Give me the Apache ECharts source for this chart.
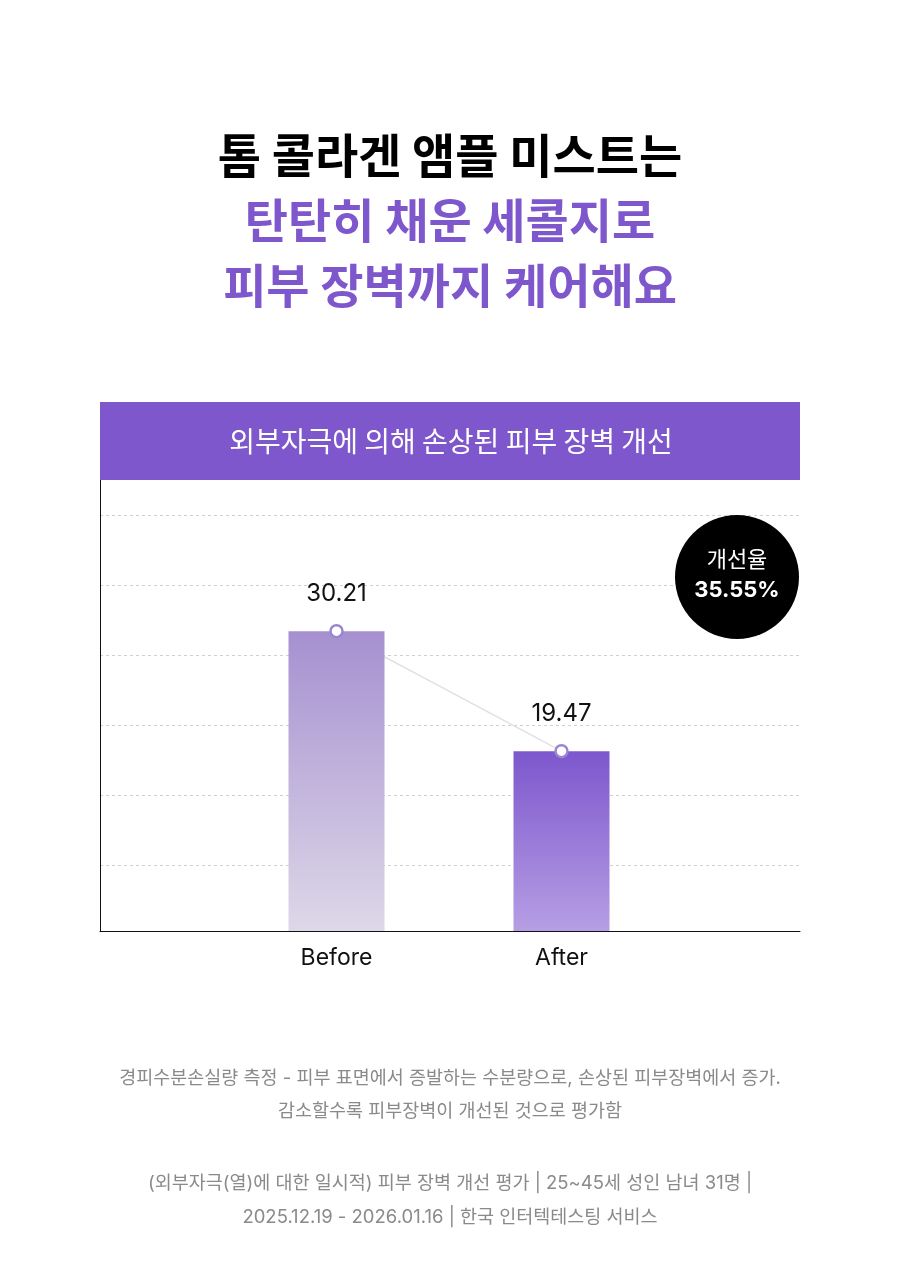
<!DOCTYPE html>
<html lang="ko">
<head>
<meta charset="utf-8">
<title>피부 장벽 개선</title>
<script src="https://cdn.jsdelivr.net/npm/echarts@6/dist/echarts.min.js"></script>
<style>
  html, body { margin: 0; padding: 0; background: #fff; }
  #chart { width: 900px; height: 1280px; }
</style>
</head>
<body>
<div id="chart"></div>
<script>
// data
const categories = ['Before', 'After'];
const tewlValues = [30.21, 19.47];
const headingLines = ['톰 콜라겐 앰플 미스트는', '탄탄히 채운 세콜지로', '피부 장벽까지 케어해요'];
const chartTitle = '외부자극에 의해 손상된 피부 장벽 개선';
const rateLabel = '개선율';
const footnotes = [
    '경피수분손실량 측정 - 피부 표면에서 증발하는 수분량으로, 손상된 피부장벽에서 증가.',
    '감소할수록 피부장벽이 개선된 것으로 평가함',
    '(외부자극(열)에 대한 일시적) 피부 장벽 개선 평가 | 25~45세 성인 남녀 31명 |',
    '2025.12.19 - 2026.01.16 | 한국 인터텍테스팅 서비스'
];

// axis extent of the bar grid (bottom of plot is not zero in the original)
const yMin = 3.37;
const yMax = 45.54;
const guideSteps = 6;

const latin = "Inter, 'Noto Sans CJK KR', sans-serif";
const kr = "'Noto Sans CJK KR', sans-serif";
const purple = '#7e57cc';

const barColors = [
    ['#a690d0', '#ddd8e8'],
    ['#7d57cd', '#b69ee4']
];

const chart = echarts.init(document.getElementById('chart'));

const rate = ((tewlValues[0] - tewlValues[1]) / tewlValues[0] * 100).toFixed(2) + '%';

const graphics = [];
headingLines.forEach((t, i) => {
    graphics.push({
        type: 'text', x: 450, y: 155 + i * 65, z: 10,
        style: {
            text: t, fill: i === 0 ? '#000' : purple,
            font: 'bold 47px ' + kr, align: 'center', verticalAlign: 'middle'
        }
    });
});
graphics.push({
    type: 'rect', z: 10,
    shape: { x: 100, y: 402, width: 700, height: 78 },
    style: { fill: purple }
});
graphics.push({
    type: 'text', x: 451, y: 441, z: 11,
    style: { text: chartTitle, fill: '#fff', font: '28px ' + kr, align: 'center', verticalAlign: 'middle' }
});
graphics.push({
    type: 'circle', z: 10,
    shape: { cx: 737, cy: 577, r: 62 },
    style: { fill: '#000' }
});
graphics.push({
    type: 'text', x: 737, y: 559, z: 11,
    style: { text: rateLabel, fill: '#fff', font: '22px ' + kr, align: 'center', verticalAlign: 'middle' }
});
graphics.push({
    type: 'text', x: 737, y: 590, z: 11,
    style: { text: rate, fill: '#fff', font: 'bold 22px ' + latin, align: 'center', verticalAlign: 'middle' }
});
const footY = [1078, 1111, 1183, 1217];
footnotes.forEach((t, i) => {
    graphics.push({
        type: 'text', x: 450, y: footY[i], z: 10,
        style: { text: t, fill: '#8a8a8a', font: '18.5px ' + latin, align: 'center', verticalAlign: 'middle' }
    });
});

const option = {
    animation: false,
    backgroundColor: '#fff',
    textStyle: { fontFamily: latin },
    grid: [
        { left: 100, right: 100, top: 460, bottom: 349 },  // frame
        { left: 100, right: 100, top: 515, bottom: 345 },  // dashed guides
        { left: 224, right: 226, top: 460, bottom: 349 }   // bars
    ],
    xAxis: [
        {
            gridIndex: 0, type: 'category', data: [''],
            axisLine: { lineStyle: { color: '#111', width: 1 } },
            axisTick: { show: false }, axisLabel: { show: false }
        },
        { gridIndex: 1, type: 'category', data: [''], show: false },
        {
            gridIndex: 2, type: 'category', data: categories,
            axisLine: { show: false }, axisTick: { show: false },
            axisLabel: { color: '#111', fontSize: 23, margin: 16 }
        }
    ],
    yAxis: [
        {
            gridIndex: 0, type: 'value', min: 0, max: 1,
            axisLine: { show: true, lineStyle: { color: '#111', width: 1 } },
            axisTick: { show: false }, axisLabel: { show: false }, splitLine: { show: false }
        },
        {
            gridIndex: 1, type: 'value', min: 0, max: guideSteps, interval: 1,
            axisLine: { show: false }, axisTick: { show: false }, axisLabel: { show: false },
            splitLine: { show: true, showMinLine: false, lineStyle: { color: '#cfcfcf', type: [3, 3], width: 1 } }
        },
        { gridIndex: 2, type: 'value', min: yMin, max: yMax, show: false }
    ],
    series: [
        {
            type: 'line', xAxisIndex: 2, yAxisIndex: 2, z: 1, silent: true,
            data: tewlValues, symbol: 'none',
            lineStyle: { color: '#e2e2e2', width: 1.5 }
        },
        {
            type: 'bar', xAxisIndex: 2, yAxisIndex: 2, z: 2, barWidth: 96,
            data: tewlValues.map((v, i) => ({
                value: v,
                itemStyle: {
                    color: new echarts.graphic.LinearGradient(0, 0, 0, 1, [
                        { offset: 0, color: barColors[i][0] },
                        { offset: 1, color: barColors[i][1] }
                    ])
                }
            }))
        },
        {
            type: 'scatter', xAxisIndex: 2, yAxisIndex: 2, z: 3,
            data: tewlValues, symbol: 'circle', symbolSize: 12,
            itemStyle: { color: '#fff', borderColor: '#9a86cf', borderWidth: 2.5, opacity: 1 },
            label: {
                show: true, position: 'top', distance: 18,
                color: '#111', fontSize: 24, fontFamily: latin,
                formatter: p => p.value.toFixed(2)
            }
        }
    ],
    graphic: graphics
};

chart.setOption(option);
</script>
</body>
</html>
